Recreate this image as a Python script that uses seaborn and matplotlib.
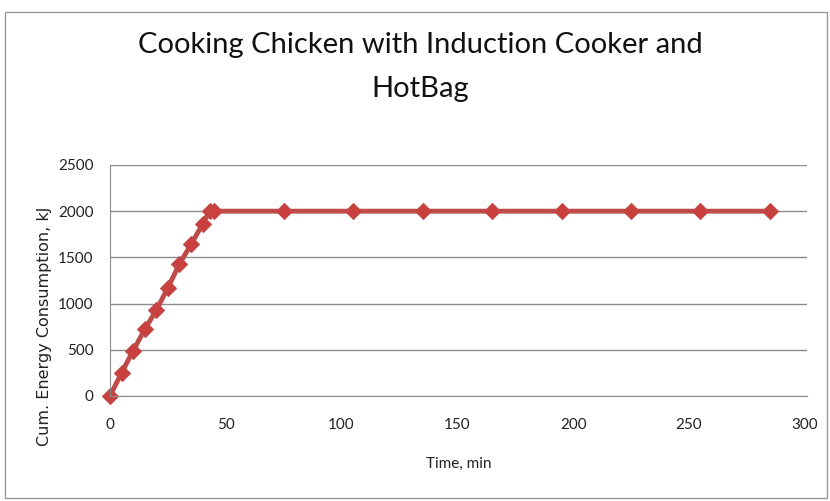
import pandas as pd
import matplotlib.pyplot as plt
import seaborn as sns

# Cumulative energy while cooking chicken
time_min = [0, 5, 10, 15, 20, 25, 30, 35, 40, 43, 45,
            75, 105, 135, 165, 195, 225, 255, 285]
energy_kj = [0, 250, 490, 720, 930, 1170, 1430, 1640, 1860, 2000, 2000,
             2000, 2000, 2000, 2000, 2000, 2000, 2000, 2000]

x_ticks = [0, 50, 100, 150, 200, 250, 300]
y_ticks = [0, 500, 1000, 1500, 2000, 2500]

df = pd.DataFrame({'Time': time_min, 'Energy': energy_kj})

sns.set_style('white')
plt.rcParams['font.family'] = ['Lato', 'DejaVu Sans']

fig = plt.figure(figsize=(8.3, 5.01), dpi=100)
ax = fig.add_axes([0.1325, 0.2096, 0.8398, 0.4611])

sns.lineplot(data=df, x='Time', y='Energy', ax=ax, color='#BE4B48',
             linewidth=3.5, marker='D', markersize=8, clip_on=False,
             markeredgecolor='#BE4B48', markerfacecolor='#C9403E')

ax.set_xlim(0, 301)
ax.set_ylim(0, 2500)
ax.set_xticks(x_ticks)
ax.set_yticks(y_ticks)
ax.yaxis.grid(True, color='#8C8C8C', linewidth=1)
ax.set_axisbelow(True)
for s in ['top', 'right']:
    ax.spines[s].set_visible(False)
ax.spines['left'].set_color('#8C8C8C')
ax.spines['bottom'].set_color('#8C8C8C')
ax.tick_params(axis='both', labelsize=11, colors='#222222', length=0)
ax.tick_params(axis='x', pad=16)
ax.tick_params(axis='y', pad=12)

ax.set_xlabel('Time, min', fontsize=11, color='#222222', labelpad=18)
ax.set_ylabel('Cum. Energy Consumption, kJ', fontsize=11.5, color='#222222',
              family='DejaVu Sans')
ax.yaxis.set_label_coords(-0.083, 0.30)

fig.text(0.506, 0.866, 'Cooking Chicken with Induction Cooker and\nHotBag',
         ha='center', va='center', fontsize=21, linespacing=1.85,
         color='#111111')

# chart border
fig.patches.append(plt.Rectangle((0.006, 0.006), 0.99, 0.97, transform=fig.transFigure,
                                 fill=False, edgecolor='#9A9A9A', linewidth=1))

plt.savefig('out.png', dpi=100)
